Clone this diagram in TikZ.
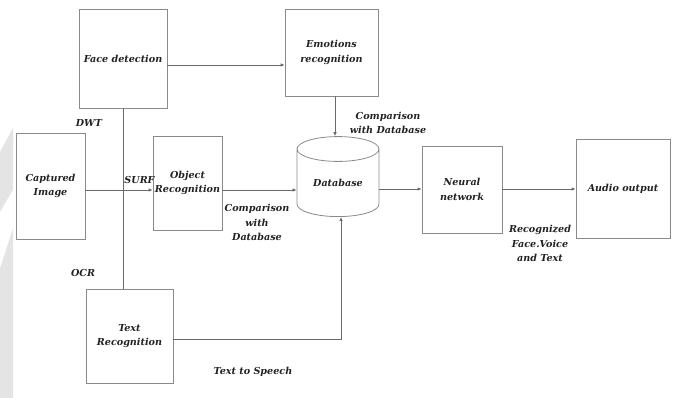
\documentclass[tikz,border=0pt]{standalone}
\usepackage{fontspec}
\setmainfont{DejaVu Serif}
\usetikzlibrary{shapes.geometric,arrows.meta}
\definecolor{boxc}{HTML}{8A8A8A}
\definecolor{linec}{HTML}{6A6A6A}
\definecolor{txtc}{HTML}{222222}
\definecolor{wm}{HTML}{E4E4E4}
\tikzset{
  lbl/.style={font=\fontsize{9.6}{14.8}\selectfont\bfseries\itshape, text=txtc, align=center, inner sep=0pt},
  box/.style={draw=boxc, line width=0.8pt, inner sep=0pt, lbl},
  conn/.style={draw=linec, line width=0.8pt},
  arr/.style={conn, -{Latex[length=4pt,width=3.6pt]}},
}
\begin{document}
\begin{tikzpicture}[x=1pt,y=-1pt]
\useasboundingbox (0,0) rectangle (673,398);
% watermark
\fill[wm] (0,152) -- (13,128) -- (13,398) -- (0,398) -- cycle;
\fill[white] (0,212) -- (13,190) -- (13,228) -- (0,268) -- cycle;
% boxes
\node[box, minimum width=88, minimum height=99] (face) at (123,58.5) {Face detection};
\node[box, minimum width=93, minimum height=87] (emo) at (331.5,52.5) {Emotions\\recognition};
\node[box, minimum width=69, minimum height=106] (cap) at (50.5,186) {Captured\\Image};
\node[box, minimum width=69, minimum height=94] (obj) at (187.5,183) {Object\\Recognition};
\node[box, cylinder, shape border rotate=90, aspect=0.5, minimum width=82, minimum height=80] (db) at (338,183) {Database};
\node[box, minimum width=80, minimum height=87] (nn) at (462,189.5) {Neural\\network};
\node[box, minimum width=94, minimum height=99] (audio) at (623,188.5) {Audio output};
\node[box, minimum width=87, minimum height=94] (txt) at (129.5,336) {Text\\Recognition};
% labels
\node[lbl] (ldwt) at (89,123) {DWT};
\node[lbl] (lsurf) at (139.5,180) {SURF};
\node[lbl] (locr) at (83,273) {OCR};
\node[lbl] (lcmp1) at (257,222.5) {Comparison\\with\\Database};
\node[lbl] (lcmp2) at (388,123) {Comparison\\with Database};
\node[lbl] (lrec) at (540,243.5) {Recognized\\Face.Voice\\and Text};
\node[lbl] (ltts) at (253,372) {Text to Speech};
% connectors
\draw[arr] (face.east |- 0,65) -- (emo.west |- 0,65);
\draw[conn] (face.south) -- (face.south |- txt.north);
\draw[arr] (cap.east |- 0,190) -- (obj.west |- 0,190);
\draw[arr] (obj.east |- 0,190) -- (db.west |- 0,190);
\draw[arr] (emo.south -| 335,0) -- (db.north -| 335,0);
\draw[arr] (db.east |- 0,189) -- (nn.west |- 0,189);
\draw[arr] (nn.east |- 0,189) -- (audio.west |- 0,189);
\coordinate (tcorner) at (341,339);
\draw[arr] (txt.east |- tcorner) -- (tcorner) -- (db.south -| tcorner);
\end{tikzpicture}
\end{document}
